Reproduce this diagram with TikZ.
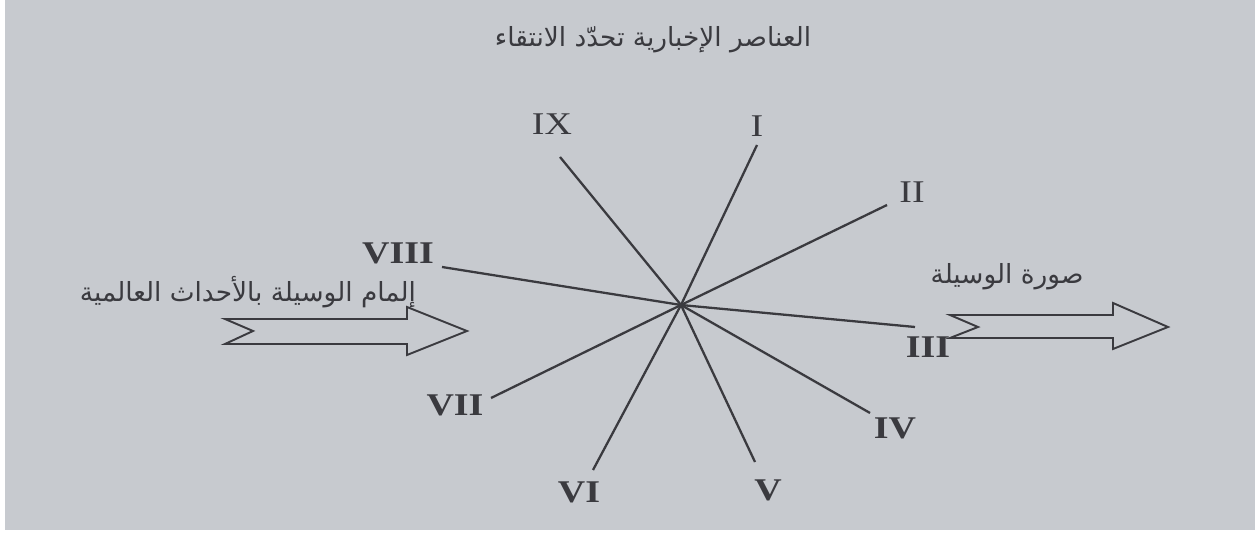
\documentclass[tikz,border=0pt]{standalone}
\usepackage{fontspec}
\usepackage{xcolor}
\setmainfont{Liberation Serif}
\newfontfamily\arabicfont[Script=Arabic]{DejaVu Sans}
\TeXXeTstate=1
\definecolor{PaperGrey}{HTML}{C7CACF}
\definecolor{InkDark}{HTML}{3A3A3F}
\newcommand\widenum[1]{\scalebox{1.2}[1]{#1}}
\tikzset{
  ray/.style={InkDark,line width=1.3pt},
  numlabel/.style={text=InkDark,font=\fontsize{18}{18}\selectfont,inner sep=0pt},
  boldlabel/.style={numlabel,font=\fontsize{18}{18}\selectfont\bfseries},
  arlabel/.style={text=InkDark,font=\arabicfont\fontsize{15}{15}\selectfont,inner sep=0pt},
  bigarrow/.style={InkDark,line width=1.1pt,line join=miter}
}

\begin{document}
\begin{tikzpicture}[x=0.02cm,y=-0.02cm]
\path[use as bounding box] (0,0) rectangle (1255,536);
\fill[PaperGrey] (5,0) rectangle (1255,530);
% title
\node[arlabel] (title) at (653,40) {\beginR العناصر الإخبارية تحدّد الانتقاء\endR};
% the nine rays
\coordinate (hub) at (681,305);
\foreach \n/\x/\y in {I/757/145,II/887/205,III/915/327,IV/870/413,V/755/462,VI/593/470,VII/491/398,VIII/442/267,IX/560/157}{
  \coordinate (end\n) at (\x,\y);
  \draw[ray] (hub) -- (end\n);
}
\node[numlabel] (labI) at (757,126) {\widenum{I}};
\node[numlabel] (labII) at (912,192) {\widenum{II}};
\node[boldlabel] (labIII) at (928,347) {\widenum{III}};
\node[boldlabel] (labIV) at (895,428) {\widenum{IV}};
\node[boldlabel] (labV) at (768,490) {\widenum{V}};
\node[boldlabel] (labVI) at (579,492) {\widenum{VI}};
\node[boldlabel] (labVII) at (455,405) {\widenum{VII}};
\node[boldlabel] (labVIII) at (398,253) {\widenum{VIII}};
\node[numlabel] (labIX) at (552,124) {\widenum{IX}};
% input arrow
\node[arlabel] (inlabel) at (248,292) {\beginR إلمام الوسيلة بالأحداث العالمية\endR};
\draw[bigarrow] (225,319) -- (407,319) -- (407,307) -- (467,331) -- (407,355) -- (407,344) -- (225,344) -- (253,331) -- cycle;
% output arrow
\node[arlabel] (outlabel) at (1007,277) {\beginR صورة الوسيلة\endR};
\draw[bigarrow] (950,315) -- (1113,315) -- (1113,303) -- (1168,327) -- (1113,349) -- (1113,338) -- (950,338) -- (978,327) -- cycle;
\end{tikzpicture}
\end{document}
